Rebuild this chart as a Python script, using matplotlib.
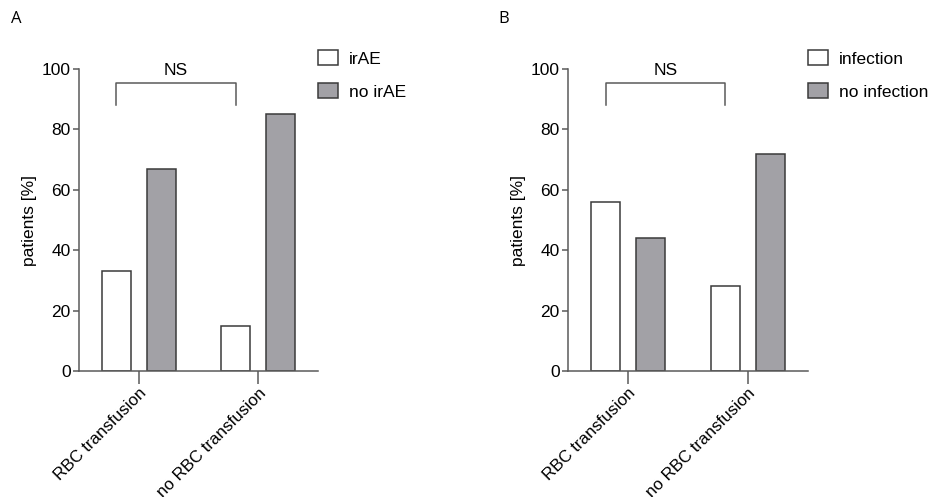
import matplotlib
matplotlib.use("Agg")
import matplotlib.pyplot as plt
import numpy as np

plt.rcParams['font.family'] = ['Liberation Sans', 'DejaVu Sans']

categories = ["RBC transfusion", "no RBC transfusion"]
yticks = [0, 20, 40, 60, 80, 100]

a_series = ["irAE", "no irAE"]
a_irae = [33, 15]
a_no_irae = [67, 85]

b_series = ["infection", "no infection"]
b_infection = [56, 28]
b_no_infection = [44, 72]

W, H = 929, 497
fig = plt.figure(figsize=(W / 100, H / 100), dpi=100)

axis_col = "#5a5a5a"
edge_col = "#3a3a3a"
gray_fill = "#a2a1a6"

def panel(left_px, right_px, s1, s2, names, letter, letter_x):
    ax = fig.add_axes([left_px / W, 126 / H, (right_px - left_px) / W, (371 - 69) / H])
    x = np.arange(len(categories))
    bw = 0.244
    off = 0.189
    ax.bar(x - off, s1, bw, color="white", edgecolor=edge_col, linewidth=1.1, label=names[0])
    ax.bar(x + off, s2, bw, color=gray_fill, edgecolor=edge_col, linewidth=1.1, label=names[1])
    ax.set_xlim(-0.504, 1.504)
    ax.set_ylim(0, 100)
    ax.set_yticks(yticks)
    ax.set_yticklabels([str(v) for v in yticks], fontsize=12.5)
    ax.set_xticks(x)
    ax.set_xticklabels(categories, fontsize=12.2, rotation=45, ha="right", va="top",
                       rotation_mode="anchor")
    for sp in ["top", "right"]:
        ax.spines[sp].set_visible(False)
    for sp in ["left", "bottom"]:
        ax.spines[sp].set_color(axis_col)
        ax.spines[sp].set_linewidth(1.1)
    ax.tick_params(axis="y", length=4, width=1.1, color=axis_col, pad=2)
    ax.tick_params(axis="x", length=9, width=1.1, color=axis_col, pad=1.5)
    ax.set_ylabel("patients [%]", fontsize=12.5, labelpad=3)
    # significance bracket
    xl, xr = x[0] - off, x[1] - off
    ax.plot([xl, xl, xr, xr], [88, 95.4, 95.4, 88], color=axis_col, lw=1.1, clip_on=False)
    ax.text((xl + xr) / 2, 97.0, "NS", ha="center", va="bottom", fontsize=12.5)
    ax.legend(loc="upper left", bbox_to_anchor=(1.0, 1.062), frameon=False,
              fontsize=12.5, handlelength=1.15, handleheight=0.92, labelspacing=0.97,
              handletextpad=0.63, borderaxespad=0, borderpad=0)
    fig.text(letter_x / W, 1 - 19 / H, letter, fontsize=12, ha="left", va="center",
             family=["Open Sans", "DejaVu Sans"])
    return ax

panel(79, 318, a_irae, a_no_irae, a_series, "A", 11)
panel(568, 808, b_infection, b_no_infection, b_series, "B", 498)

fig.savefig("out.png", dpi=100)
